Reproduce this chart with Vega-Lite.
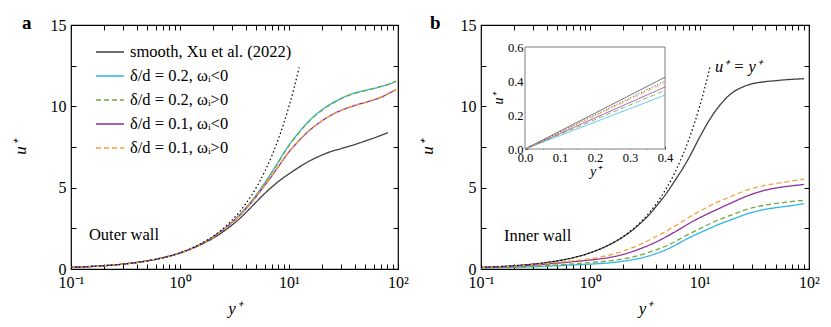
{
"$schema": "https://vega.github.io/schema/vega-lite/v6.json",
"padding": {"left": 10, "top": 13, "right": 5, "bottom": 5},
"config": {
 "font": "Liberation Serif, Times New Roman, serif",
 "view": {"stroke": "#000", "strokeWidth": 1.2},
 "axis": {"grid": false, "domain": false, "tickColor": "#000", "tickWidth": 1, "labelColor": "#000", "labelFont": "Liberation Serif, Times New Roman, serif", "labelFontSize": 16, "titleFont": "Liberation Serif, Times New Roman, serif", "titleFontSize": 17, "titleFontStyle": "italic", "titleFontWeight": "normal", "titleColor": "#000", "labelFlush": false, "labelOverlap": false},
 "legend": {"labelFont": "Liberation Serif, Times New Roman, serif", "labelFontSize": 16.5, "labelColor": "#000", "labelLimit": 400},
 "text": {"font": "Liberation Serif, Times New Roman, serif"},
 "title": {"font": "Liberation Serif, Times New Roman, serif", "fontSize": 19, "fontWeight": "bold", "color": "#000", "anchor": "start", "frame": "bounds", "baseline": "alphabetic"}
},
"datasets": {
 "curves": [
  {"p":"a","c":"S","x":0.1,"u":0.1},{"p":"a","c":"S","x":0.2,"u":0.2},{"p":"a","c":"S","x":0.3,"u":0.3},{"p":"a","c":"S","x":0.5,"u":0.5},{"p":"a","c":"S","x":0.7,"u":0.69},{"p":"a","c":"S","x":1,"u":0.98},{"p":"a","c":"S","x":1.5,"u":1.45},{"p":"a","c":"S","x":2,"u":1.88},{"p":"a","c":"S","x":2.5,"u":2.3},{"p":"a","c":"S","x":3,"u":2.7},{"p":"a","c":"S","x":3.5,"u":3.08},{"p":"a","c":"S","x":4,"u":3.45},{"p":"a","c":"S","x":5,"u":4.12},{"p":"a","c":"S","x":6,"u":4.65},{"p":"a","c":"S","x":7,"u":5.05},{"p":"a","c":"S","x":8,"u":5.38},{"p":"a","c":"S","x":10,"u":5.85},{"p":"a","c":"S","x":12,"u":6.2},{"p":"a","c":"S","x":15,"u":6.6},{"p":"a","c":"S","x":20,"u":7.0},{"p":"a","c":"S","x":25,"u":7.25},{"p":"a","c":"S","x":30,"u":7.4},{"p":"a","c":"S","x":40,"u":7.65},{"p":"a","c":"S","x":50,"u":7.87},{"p":"a","c":"S","x":60,"u":8.05},{"p":"a","c":"S","x":70,"u":8.22},{"p":"a","c":"S","x":81,"u":8.38},
  {"p":"a","c":"C2n","x":0.1,"u":0.1},{"p":"a","c":"C2n","x":0.2,"u":0.2},{"p":"a","c":"C2n","x":0.3,"u":0.3},{"p":"a","c":"C2n","x":0.5,"u":0.5},{"p":"a","c":"C2n","x":0.7,"u":0.7},{"p":"a","c":"C2n","x":1,"u":0.99},{"p":"a","c":"C2n","x":1.5,"u":1.48},{"p":"a","c":"C2n","x":2,"u":1.96},{"p":"a","c":"C2n","x":2.5,"u":2.43},{"p":"a","c":"C2n","x":3,"u":2.88},{"p":"a","c":"C2n","x":3.5,"u":3.32},{"p":"a","c":"C2n","x":4,"u":3.75},{"p":"a","c":"C2n","x":5,"u":4.55},{"p":"a","c":"C2n","x":6,"u":5.3},{"p":"a","c":"C2n","x":7,"u":5.98},{"p":"a","c":"C2n","x":8,"u":6.6},{"p":"a","c":"C2n","x":10,"u":7.62},{"p":"a","c":"C2n","x":12,"u":8.3},{"p":"a","c":"C2n","x":15,"u":9.05},{"p":"a","c":"C2n","x":20,"u":9.78},{"p":"a","c":"C2n","x":25,"u":10.2},{"p":"a","c":"C2n","x":30,"u":10.48},{"p":"a","c":"C2n","x":40,"u":10.82},{"p":"a","c":"C2n","x":50,"u":10.98},{"p":"a","c":"C2n","x":60,"u":11.1},{"p":"a","c":"C2n","x":70,"u":11.22},{"p":"a","c":"C2n","x":80,"u":11.33},{"p":"a","c":"C2n","x":96,"u":11.53},
  {"p":"a","c":"G2p","x":0.1,"u":0.1},{"p":"a","c":"G2p","x":0.2,"u":0.2},{"p":"a","c":"G2p","x":0.3,"u":0.3},{"p":"a","c":"G2p","x":0.5,"u":0.5},{"p":"a","c":"G2p","x":0.7,"u":0.7},{"p":"a","c":"G2p","x":1,"u":0.99},{"p":"a","c":"G2p","x":1.5,"u":1.48},{"p":"a","c":"G2p","x":2,"u":1.96},{"p":"a","c":"G2p","x":2.5,"u":2.42},{"p":"a","c":"G2p","x":3,"u":2.87},{"p":"a","c":"G2p","x":3.5,"u":3.31},{"p":"a","c":"G2p","x":4,"u":3.74},{"p":"a","c":"G2p","x":5,"u":4.53},{"p":"a","c":"G2p","x":6,"u":5.28},{"p":"a","c":"G2p","x":7,"u":5.95},{"p":"a","c":"G2p","x":8,"u":6.57},{"p":"a","c":"G2p","x":10,"u":7.59},{"p":"a","c":"G2p","x":12,"u":8.27},{"p":"a","c":"G2p","x":15,"u":9.02},{"p":"a","c":"G2p","x":20,"u":9.75},{"p":"a","c":"G2p","x":25,"u":10.18},{"p":"a","c":"G2p","x":30,"u":10.47},{"p":"a","c":"G2p","x":40,"u":10.8},{"p":"a","c":"G2p","x":50,"u":10.97},{"p":"a","c":"G2p","x":60,"u":11.1},{"p":"a","c":"G2p","x":70,"u":11.22},{"p":"a","c":"G2p","x":80,"u":11.34},{"p":"a","c":"G2p","x":96,"u":11.55},
  {"p":"a","c":"P1n","x":0.1,"u":0.1},{"p":"a","c":"P1n","x":0.2,"u":0.2},{"p":"a","c":"P1n","x":0.3,"u":0.3},{"p":"a","c":"P1n","x":0.5,"u":0.5},{"p":"a","c":"P1n","x":0.7,"u":0.7},{"p":"a","c":"P1n","x":1,"u":0.99},{"p":"a","c":"P1n","x":1.5,"u":1.47},{"p":"a","c":"P1n","x":2,"u":1.94},{"p":"a","c":"P1n","x":2.5,"u":2.4},{"p":"a","c":"P1n","x":3,"u":2.85},{"p":"a","c":"P1n","x":3.5,"u":3.27},{"p":"a","c":"P1n","x":4,"u":3.68},{"p":"a","c":"P1n","x":5,"u":4.45},{"p":"a","c":"P1n","x":6,"u":5.15},{"p":"a","c":"P1n","x":7,"u":5.75},{"p":"a","c":"P1n","x":8,"u":6.3},{"p":"a","c":"P1n","x":10,"u":7.2},{"p":"a","c":"P1n","x":12,"u":7.8},{"p":"a","c":"P1n","x":15,"u":8.45},{"p":"a","c":"P1n","x":20,"u":9.1},{"p":"a","c":"P1n","x":25,"u":9.5},{"p":"a","c":"P1n","x":30,"u":9.75},{"p":"a","c":"P1n","x":40,"u":10.05},{"p":"a","c":"P1n","x":50,"u":10.24},{"p":"a","c":"P1n","x":60,"u":10.4},{"p":"a","c":"P1n","x":70,"u":10.56},{"p":"a","c":"P1n","x":80,"u":10.75},{"p":"a","c":"P1n","x":96,"u":11.02},
  {"p":"a","c":"O1p","x":0.1,"u":0.1},{"p":"a","c":"O1p","x":0.2,"u":0.2},{"p":"a","c":"O1p","x":0.3,"u":0.3},{"p":"a","c":"O1p","x":0.5,"u":0.5},{"p":"a","c":"O1p","x":0.7,"u":0.7},{"p":"a","c":"O1p","x":1,"u":0.99},{"p":"a","c":"O1p","x":1.5,"u":1.47},{"p":"a","c":"O1p","x":2,"u":1.94},{"p":"a","c":"O1p","x":2.5,"u":2.4},{"p":"a","c":"O1p","x":3,"u":2.85},{"p":"a","c":"O1p","x":3.5,"u":3.27},{"p":"a","c":"O1p","x":4,"u":3.69},{"p":"a","c":"O1p","x":5,"u":4.47},{"p":"a","c":"O1p","x":6,"u":5.17},{"p":"a","c":"O1p","x":7,"u":5.77},{"p":"a","c":"O1p","x":8,"u":6.32},{"p":"a","c":"O1p","x":10,"u":7.22},{"p":"a","c":"O1p","x":12,"u":7.82},{"p":"a","c":"O1p","x":15,"u":8.47},{"p":"a","c":"O1p","x":20,"u":9.1},{"p":"a","c":"O1p","x":25,"u":9.5},{"p":"a","c":"O1p","x":30,"u":9.75},{"p":"a","c":"O1p","x":40,"u":10.05},{"p":"a","c":"O1p","x":50,"u":10.25},{"p":"a","c":"O1p","x":60,"u":10.42},{"p":"a","c":"O1p","x":70,"u":10.58},{"p":"a","c":"O1p","x":80,"u":10.77},{"p":"a","c":"O1p","x":96,"u":11.04},
  {"p":"b","c":"S","x":0.1,"u":0.1},{"p":"b","c":"S","x":0.2,"u":0.2},{"p":"b","c":"S","x":0.3,"u":0.3},{"p":"b","c":"S","x":0.5,"u":0.5},{"p":"b","c":"S","x":0.7,"u":0.7},{"p":"b","c":"S","x":1,"u":1.0},{"p":"b","c":"S","x":1.5,"u":1.5},{"p":"b","c":"S","x":2,"u":1.98},{"p":"b","c":"S","x":2.5,"u":2.46},{"p":"b","c":"S","x":3,"u":2.93},{"p":"b","c":"S","x":3.5,"u":3.38},{"p":"b","c":"S","x":4,"u":3.85},{"p":"b","c":"S","x":5,"u":4.68},{"p":"b","c":"S","x":6,"u":5.48},{"p":"b","c":"S","x":7,"u":6.18},{"p":"b","c":"S","x":8,"u":6.85},{"p":"b","c":"S","x":10,"u":8.1},{"p":"b","c":"S","x":12,"u":9.05},{"p":"b","c":"S","x":15,"u":10.0},{"p":"b","c":"S","x":20,"u":10.85},{"p":"b","c":"S","x":25,"u":11.2},{"p":"b","c":"S","x":30,"u":11.38},{"p":"b","c":"S","x":40,"u":11.52},{"p":"b","c":"S","x":50,"u":11.58},{"p":"b","c":"S","x":60,"u":11.63},{"p":"b","c":"S","x":70,"u":11.66},{"p":"b","c":"S","x":80,"u":11.68},{"p":"b","c":"S","x":90,"u":11.7},
  {"p":"b","c":"C2n","x":0.1,"u":0.06},{"p":"b","c":"C2n","x":0.2,"u":0.1},{"p":"b","c":"C2n","x":0.3,"u":0.14},{"p":"b","c":"C2n","x":0.5,"u":0.2},{"p":"b","c":"C2n","x":0.75,"u":0.26},{"p":"b","c":"C2n","x":1,"u":0.3},{"p":"b","c":"C2n","x":1.5,"u":0.38},{"p":"b","c":"C2n","x":2,"u":0.48},{"p":"b","c":"C2n","x":3,"u":0.7},{"p":"b","c":"C2n","x":4,"u":0.95},{"p":"b","c":"C2n","x":5,"u":1.2},{"p":"b","c":"C2n","x":6.6,"u":1.62},{"p":"b","c":"C2n","x":8,"u":1.92},{"p":"b","c":"C2n","x":10,"u":2.22},{"p":"b","c":"C2n","x":14,"u":2.66},{"p":"b","c":"C2n","x":20,"u":3.06},{"p":"b","c":"C2n","x":28,"u":3.42},{"p":"b","c":"C2n","x":40,"u":3.67},{"p":"b","c":"C2n","x":57,"u":3.82},{"p":"b","c":"C2n","x":75,"u":3.93},{"p":"b","c":"C2n","x":90,"u":4.02},
  {"p":"b","c":"G2p","x":0.1,"u":0.07},{"p":"b","c":"G2p","x":0.2,"u":0.12},{"p":"b","c":"G2p","x":0.3,"u":0.17},{"p":"b","c":"G2p","x":0.5,"u":0.25},{"p":"b","c":"G2p","x":0.75,"u":0.33},{"p":"b","c":"G2p","x":1,"u":0.4},{"p":"b","c":"G2p","x":1.5,"u":0.5},{"p":"b","c":"G2p","x":2,"u":0.62},{"p":"b","c":"G2p","x":3,"u":0.9},{"p":"b","c":"G2p","x":4,"u":1.18},{"p":"b","c":"G2p","x":5,"u":1.43},{"p":"b","c":"G2p","x":6.6,"u":1.85},{"p":"b","c":"G2p","x":8,"u":2.15},{"p":"b","c":"G2p","x":10,"u":2.47},{"p":"b","c":"G2p","x":14,"u":2.95},{"p":"b","c":"G2p","x":20,"u":3.35},{"p":"b","c":"G2p","x":28,"u":3.7},{"p":"b","c":"G2p","x":40,"u":3.93},{"p":"b","c":"G2p","x":57,"u":4.08},{"p":"b","c":"G2p","x":75,"u":4.17},{"p":"b","c":"G2p","x":90,"u":4.22},
  {"p":"b","c":"P1n","x":0.1,"u":0.09},{"p":"b","c":"P1n","x":0.2,"u":0.17},{"p":"b","c":"P1n","x":0.3,"u":0.24},{"p":"b","c":"P1n","x":0.5,"u":0.36},{"p":"b","c":"P1n","x":0.75,"u":0.47},{"p":"b","c":"P1n","x":1,"u":0.55},{"p":"b","c":"P1n","x":1.5,"u":0.71},{"p":"b","c":"P1n","x":2,"u":0.9},{"p":"b","c":"P1n","x":3,"u":1.3},{"p":"b","c":"P1n","x":4,"u":1.66},{"p":"b","c":"P1n","x":5,"u":2.0},{"p":"b","c":"P1n","x":6.6,"u":2.46},{"p":"b","c":"P1n","x":8,"u":2.8},{"p":"b","c":"P1n","x":10,"u":3.15},{"p":"b","c":"P1n","x":14,"u":3.62},{"p":"b","c":"P1n","x":20,"u":4.1},{"p":"b","c":"P1n","x":28,"u":4.52},{"p":"b","c":"P1n","x":40,"u":4.85},{"p":"b","c":"P1n","x":57,"u":5.04},{"p":"b","c":"P1n","x":75,"u":5.14},{"p":"b","c":"P1n","x":90,"u":5.2},
  {"p":"b","c":"O1p","x":0.1,"u":0.09},{"p":"b","c":"O1p","x":0.2,"u":0.18},{"p":"b","c":"O1p","x":0.3,"u":0.26},{"p":"b","c":"O1p","x":0.5,"u":0.4},{"p":"b","c":"O1p","x":0.75,"u":0.53},{"p":"b","c":"O1p","x":1,"u":0.63},{"p":"b","c":"O1p","x":1.5,"u":0.86},{"p":"b","c":"O1p","x":2,"u":1.1},{"p":"b","c":"O1p","x":3,"u":1.58},{"p":"b","c":"O1p","x":4,"u":2.0},{"p":"b","c":"O1p","x":5,"u":2.35},{"p":"b","c":"O1p","x":6.6,"u":2.83},{"p":"b","c":"O1p","x":8,"u":3.18},{"p":"b","c":"O1p","x":10,"u":3.55},{"p":"b","c":"O1p","x":14,"u":4.06},{"p":"b","c":"O1p","x":20,"u":4.5},{"p":"b","c":"O1p","x":28,"u":4.88},{"p":"b","c":"O1p","x":40,"u":5.15},{"p":"b","c":"O1p","x":57,"u":5.32},{"p":"b","c":"O1p","x":75,"u":5.45},{"p":"b","c":"O1p","x":90,"u":5.52}
 ],
 "dotted": [
  {"x":0.1,"u":0.1},{"x":0.5,"u":0.5},{"x":1,"u":1},{"x":1.5,"u":1.5},{"x":2,"u":2},{"x":2.5,"u":2.5},{"x":3,"u":3},{"x":3.5,"u":3.5},{"x":4,"u":4},{"x":4.5,"u":4.5},{"x":5,"u":5},{"x":6,"u":6},{"x":7,"u":7},{"x":8,"u":8},{"x":9,"u":9},{"x":10,"u":10},{"x":11,"u":11},{"x":12,"u":12},{"x":12.4,"u":12.4}
 ],
 "inset": [
  {"c":"S","ym":0,"u":0},{"c":"S","ym":0.4,"u":0.422},
  {"c":"C2n","ym":0,"u":0},{"c":"C2n","ym":0.4,"u":0.317},
  {"c":"G2p","ym":0,"u":0},{"c":"G2p","ym":0.4,"u":0.345},
  {"c":"P1n","ym":0,"u":0},{"c":"P1n","ym":0.4,"u":0.365},
  {"c":"O1p","ym":0,"u":0},{"c":"O1p","ym":0.4,"u":0.39}
 ],
 "insetdot": [{"ym":0,"u":0},{"ym":0.4,"u":0.4}]
},
"hconcat": [
 {
  "width": 327, "height": 244,
  "title": {"text": "a", "offset": -16, "dx": 11},
  "layer": [
   {
    "data": {"name": "curves"},
    "transform": [{"filter": "datum.p == 'a'"}],
    "mark": {"type": "line", "strokeWidth": 1.3, "interpolate": "monotone"},
    "encoding": {
     "x": {"field": "x", "type": "quantitative", "scale": {"type": "log", "domain": [0.1, 100], "nice": false},
      "axis": {"orient": "bottom", "title": "y⁺", "values": [0.1,0.2,0.3,0.4,0.5,0.6,0.7,0.8,0.9,1,2,3,4,5,6,7,8,9,10,20,30,40,50,60,70,80,90,100],
       "labelExpr": "abs(log(datum.value)/LN10 - round(log(datum.value)/LN10)) < 0.001 ? (datum.value < 0.5 ? '10⁻¹' : datum.value < 5 ? '10⁰' : datum.value < 50 ? '10¹' : '10²') : ''",
       "tickSize": -5, "labelPadding": 10, "titlePadding": 10}},
     "y": {"field": "u", "type": "quantitative", "scale": {"domain": [0, 15], "nice": false},
      "axis": {"orient": "left", "title": "u⁺", "values": [0,2.5,5,7.5,10,12.5,15], "labelExpr": "datum.value % 5 == 0 ? datum.label : ''", "tickSize": -5, "labelPadding": 10, "titlePadding": 21}},
     "color": {"field": "c", "type": "nominal", "scale": {"domain": ["S","C2n","G2p","P1n","O1p"], "range": ["#404040","#2db5e6","#72a83e","#8a309c","#f5a23c"]},
      "legend": {"title": null, "orient": "none", "legendX": 24, "legendY": 12, "symbolType": "stroke", "symbolSize": 784, "symbolStrokeWidth": 1.5, "rowPadding": -10, "labelOffset": 5, "padding": 0,
       "labelExpr": "datum.label == 'S' ? 'smooth, Xu et al. (2022)' : datum.label == 'C2n' ? 'δ/d = 0.2, ωᵢ<0' : datum.label == 'G2p' ? 'δ/d = 0.2, ωᵢ>0' : datum.label == 'P1n' ? 'δ/d = 0.1, ωᵢ<0' : 'δ/d = 0.1, ωᵢ>0'"}},
     "strokeDash": {"field": "c", "type": "nominal", "scale": {"domain": ["S","C2n","G2p","P1n","O1p"], "range": [[1,0],[1,0],[5,3],[1,0],[5,3]]},
      "legend": {"title": null, "orient": "none", "legendX": 24, "legendY": 12, "symbolType": "stroke", "symbolSize": 784, "symbolStrokeWidth": 1.5, "rowPadding": -10, "labelOffset": 5, "padding": 0,
       "labelExpr": "datum.label == 'S' ? 'smooth, Xu et al. (2022)' : datum.label == 'C2n' ? 'δ/d = 0.2, ωᵢ<0' : datum.label == 'G2p' ? 'δ/d = 0.2, ωᵢ>0' : datum.label == 'P1n' ? 'δ/d = 0.1, ωᵢ<0' : 'δ/d = 0.1, ωᵢ>0'"}}
    }
   },
   {
    "data": {"name": "dotted"},
    "mark": {"type": "line", "color": "#000", "strokeWidth": 1.2, "strokeDash": [1.5, 2.5], "interpolate": "monotone"},
    "encoding": {
     "x": {"field": "x", "type": "quantitative", "axis": {"orient": "top", "title": null, "labels": false, "values": [0.1,0.2,0.3,0.4,0.5,0.6,0.7,0.8,0.9,1,2,3,4,5,6,7,8,9,10,20,30,40,50,60,70,80,90,100], "tickSize": -5}},
     "y": {"field": "u", "type": "quantitative", "axis": {"orient": "right", "title": null, "labels": false, "values": [0,2.5,5,7.5,10,12.5,15], "tickSize": -5}}
    }
   },
   {
    "data": {"values": [{}]},
    "mark": {"type": "text", "text": "Outer wall", "align": "left", "baseline": "middle", "fontSize": 16.5, "color": "#000"},
    "encoding": {
     "x": {"datum": 0.146, "type": "quantitative", "axis": null},
     "y": {"datum": 2.1, "type": "quantitative", "axis": null}
    }
   }
  ],
  "resolve": {"axis": {"x": "independent", "y": "independent"}}
 },
 {
  "width": 328, "height": 244,
  "title": {"text": "b", "offset": -16, "dx": 12},
  "layer": [
   {
    "data": {"name": "curves"},
    "transform": [{"filter": "datum.p == 'b'"}],
    "mark": {"type": "line", "strokeWidth": 1.3, "interpolate": "monotone"},
    "encoding": {
     "x": {"field": "x", "type": "quantitative", "scale": {"type": "log", "domain": [0.1, 100], "nice": false},
      "axis": {"orient": "bottom", "title": "y⁺", "values": [0.1,0.2,0.3,0.4,0.5,0.6,0.7,0.8,0.9,1,2,3,4,5,6,7,8,9,10,20,30,40,50,60,70,80,90,100],
       "labelExpr": "abs(log(datum.value)/LN10 - round(log(datum.value)/LN10)) < 0.001 ? (datum.value < 0.5 ? '10⁻¹' : datum.value < 5 ? '10⁰' : datum.value < 50 ? '10¹' : '10²') : ''",
       "tickSize": -5, "labelPadding": 10, "titlePadding": 10}},
     "y": {"field": "u", "type": "quantitative", "scale": {"domain": [0, 15], "nice": false},
      "axis": {"orient": "left", "title": "u⁺", "values": [0,2.5,5,7.5,10,12.5,15], "labelExpr": "datum.value % 5 == 0 ? datum.label : ''", "tickSize": -5, "labelPadding": 10, "titlePadding": 24}},
     "color": {"field": "c", "type": "nominal", "scale": {"domain": ["S","C2n","G2p","P1n","O1p"], "range": ["#404040","#2db5e6","#72a83e","#8a309c","#f5a23c"]}, "legend": null},
     "strokeDash": {"field": "c", "type": "nominal", "scale": {"domain": ["S","C2n","G2p","P1n","O1p"], "range": [[1,0],[1,0],[5,3],[1,0],[5,3]]}, "legend": null}
    }
   },
   {
    "data": {"name": "dotted"},
    "mark": {"type": "line", "color": "#000", "strokeWidth": 1.2, "strokeDash": [1.5, 2.5], "interpolate": "monotone"},
    "encoding": {
     "x": {"field": "x", "type": "quantitative", "scale": {"type": "log", "domain": [0.1, 100], "nice": false}, "axis": {"orient": "top", "title": null, "labels": false, "values": [0.1,0.2,0.3,0.4,0.5,0.6,0.7,0.8,0.9,1,2,3,4,5,6,7,8,9,10,20,30,40,50,60,70,80,90,100], "tickSize": -5}},
     "y": {"field": "u", "type": "quantitative", "scale": {"domain": [0, 15], "nice": false}, "axis": {"orient": "right", "title": null, "labels": false, "values": [0,2.5,5,7.5,10,12.5,15], "tickSize": -5}}
    }
   },
   {
    "data": {"values": [{}]},
    "mark": {"type": "text", "text": "Inner wall", "align": "left", "baseline": "middle", "fontSize": 16.5, "color": "#000"},
    "encoding": {
     "x": {"datum": 0.162, "type": "quantitative", "scale": {"type": "log", "domain": [0.1, 100], "nice": false}, "axis": null},
     "y": {"datum": 2.03, "type": "quantitative", "scale": {"domain": [0, 15], "nice": false}, "axis": null}
    }
   },
   {
    "data": {"values": [{}]},
    "mark": {"type": "text", "text": "u⁺ = y⁺", "align": "left", "baseline": "middle", "fontSize": 16.5, "fontStyle": "italic", "color": "#000"},
    "encoding": {
     "x": {"datum": 13.8, "type": "quantitative", "scale": {"type": "log", "domain": [0.1, 100], "nice": false}, "axis": null},
     "y": {"datum": 12.4, "type": "quantitative", "scale": {"domain": [0, 15], "nice": false}, "axis": null}
    }
   },
   {
    "data": {"values": [{}]},
    "mark": {"type": "rect", "fill": "#fff", "stroke": "#707070", "strokeWidth": 0.9},
    "encoding": {
     "x": {"datum": 0, "type": "quantitative", "scale": {"domain": [0, 0.4], "range": [44, 184], "nice": false, "zero": false}, "axis": null},
     "x2": {"datum": 0.4},
     "y": {"datum": 0, "type": "quantitative", "scale": {"domain": [0, 0.6], "range": [124, 22], "nice": false, "zero": false}, "axis": null},
     "y2": {"datum": 0.6}
    }
   },
   {
    "data": {"name": "insetdot"},
    "mark": {"type": "line", "color": "#000", "strokeWidth": 0.8, "strokeDash": [1, 2]},
    "encoding": {
     "x": {"field": "ym", "type": "quantitative", "scale": {"domain": [0, 0.4], "range": [44, 184], "nice": false, "zero": false}, "axis": null},
     "y": {"field": "u", "type": "quantitative", "scale": {"domain": [0, 0.6], "range": [124, 22], "nice": false, "zero": false}, "axis": null}
    }
   },
   {
    "data": {"name": "inset"},
    "mark": {"type": "line", "strokeWidth": 0.8},
    "encoding": {
     "x": {"field": "ym", "type": "quantitative", "scale": {"domain": [0, 0.4], "range": [44, 184], "nice": false, "zero": false},
      "axis": {"orient": "bottom", "offset": -120, "title": "y⁺", "titleFontSize": 14, "titlePadding": 1, "values": [0,0.05,0.1,0.15,0.2,0.25,0.3,0.35,0.4], "labelExpr": "abs(datum.value*10 - round(datum.value*10)) < 0.001 ? format(datum.value, '.1f') : ''", "labelFontSize": 12.5, "tickSize": -3, "tickColor": "#555", "labelPadding": 5}},
     "y": {"field": "u", "type": "quantitative", "scale": {"domain": [0, 0.6], "range": [124, 22], "nice": false, "zero": false},
      "axis": {"orient": "left", "offset": -44, "title": "u⁺", "titleFontSize": 14, "titlePadding": 2, "values": [0,0.1,0.2,0.3,0.4,0.5,0.6], "labelExpr": "abs(datum.value*5 - round(datum.value*5)) < 0.001 ? format(datum.value, '.1f') : ''", "labelFontSize": 12.5, "tickSize": -3, "tickColor": "#555", "labelPadding": 5}},
     "color": {"field": "c", "type": "nominal", "scale": {"domain": ["S","C2n","G2p","P1n","O1p"], "range": ["#404040","#2db5e6","#72a83e","#8a309c","#f5a23c"]}, "legend": null},
     "strokeDash": {"field": "c", "type": "nominal", "scale": {"domain": ["S","C2n","G2p","P1n","O1p"], "range": [[1,0],[1,0],[3,2],[1,0],[3,2]]}, "legend": null}
    }
   }
  ],
  "resolve": {"scale": {"x": "independent", "y": "independent"}, "axis": {"x": "independent", "y": "independent"}}
 }
],
"spacing": 83,
"bounds": "flush",
"resolve": {"legend": {"color": "independent", "strokeDash": "independent"}}
}
